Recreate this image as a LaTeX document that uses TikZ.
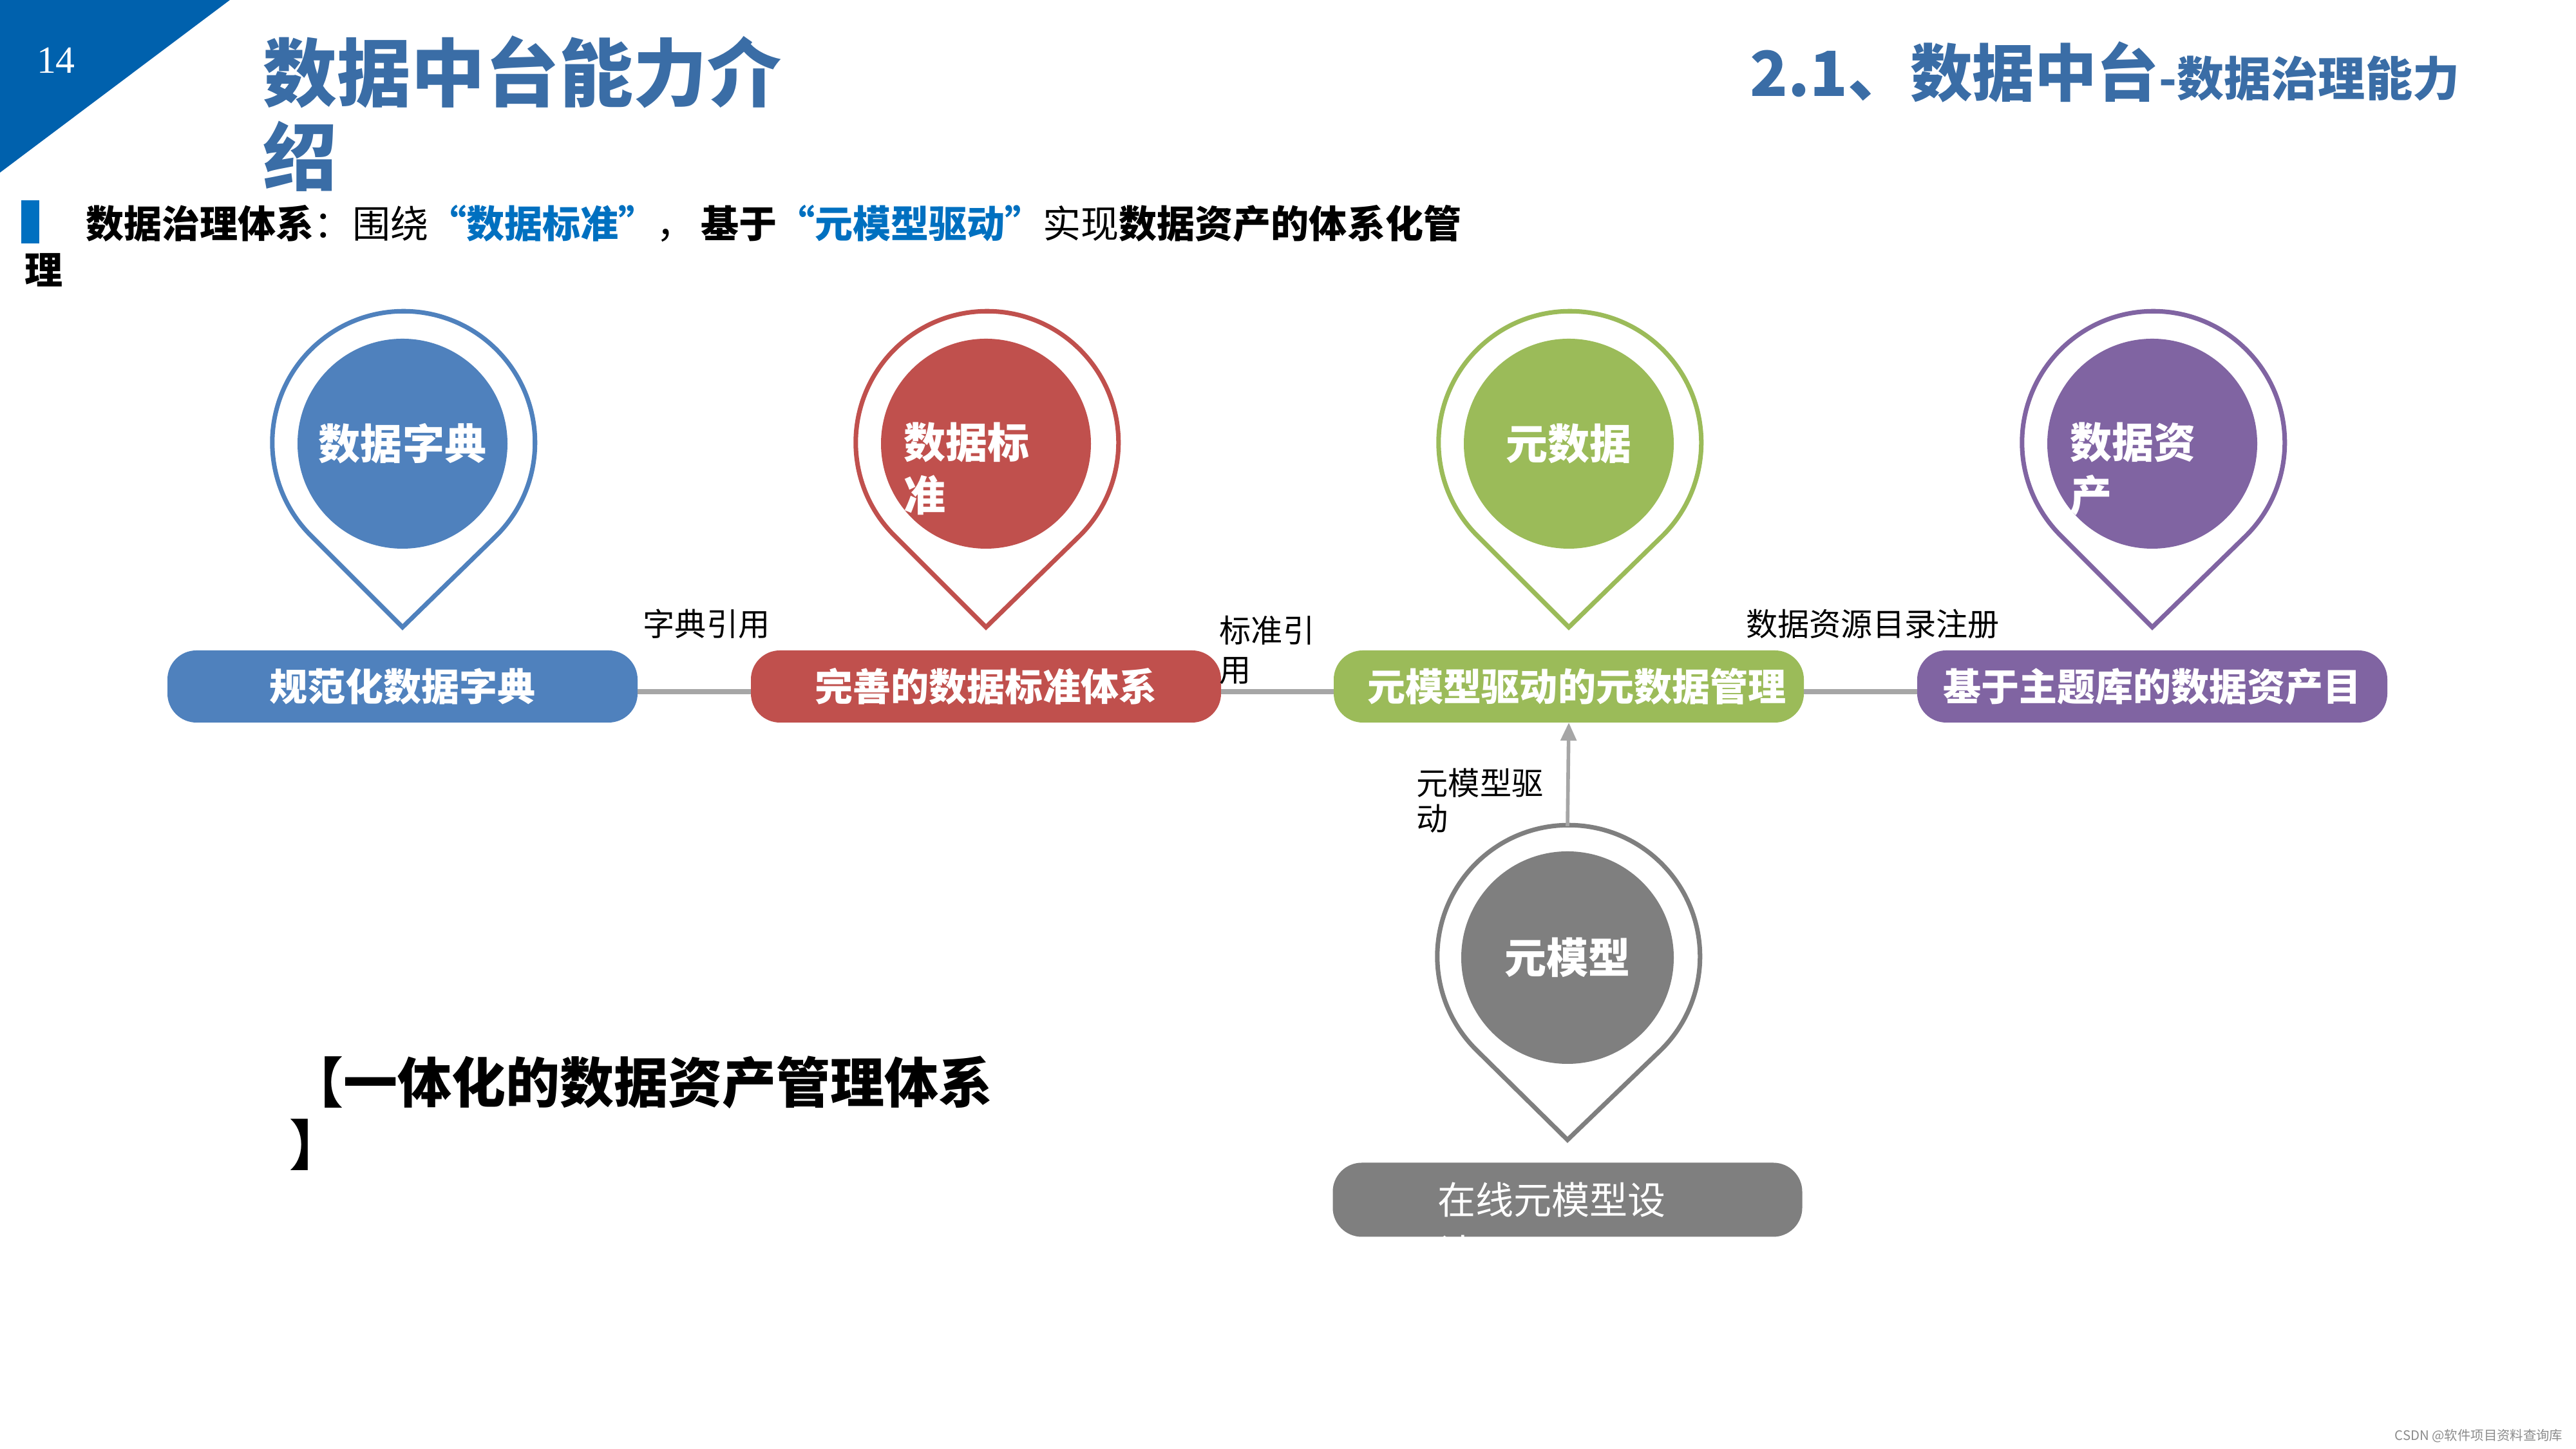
\documentclass[tikz,border=0pt]{standalone}
\usepackage{fontspec}
\setmainfont{Noto Sans CJK SC}
\newfontfamily\serifnum{Liberation Serif}
\usetikzlibrary{arrows.meta}
\definecolor{cb}{HTML}{4F81BD}
\definecolor{cr}{HTML}{C0504D}
\definecolor{cg}{HTML}{9BBB59}
\definecolor{cp}{HTML}{8064A2}
\definecolor{cgr}{HTML}{7F7F7F}
\definecolor{lnc}{HTML}{A6A6A6}
\definecolor{ttl}{HTML}{3A6DA6}
\definecolor{tri}{HTML}{0061AD}
\definecolor{hl}{HTML}{0070C0}
\tikzset{
 pinline/.style={line width=2pt, fill=white},
 pill/.style={rounded corners=0.45cm, minimum width=7.3cm, minimum height=1.12cm, inner sep=0, outer sep=0, text=white, font=\fontsize{16.8}{20}\selectfont\bfseries},
 incirc/.style={circle, minimum size=3.26cm, inner sep=0, outer sep=0, text=white, font=\fontsize{18.5}{23.3}\selectfont\bfseries},
 intext/.style={anchor=north west, inner sep=0, align=left, text=white, font=\fontsize{18.5}{23.3}\selectfont\bfseries},
 outc/.style={circle, minimum size=4.08cm, inner sep=0, outer sep=0},
 lbl/.style={inner sep=0, font=\fontsize{14}{17.4}\selectfont},
 conn/.style={draw=lnc, line width=2.2pt},
}
\begin{document}
\begin{tikzpicture}
\useasboundingbox (0,0) rectangle (40,22.5);
\fill[white] (0,0) rectangle (40,22.5);

% header
\fill[tri] (0,22.5) -- (3.57,22.5) -- (0,19.82) -- cycle;
\node[text=white, font=\serifnum\fontsize{17}{20}\selectfont, inner sep=0] (pg) at (0.87,21.56) {14};
\node[anchor=north west, inner sep=0, align=left, text=ttl, font=\fontsize{32.7}{37}\selectfont\bfseries] (tl) at (4.08,21.95) {数据中台能力介\\绍};
\node[anchor=base west, inner sep=0, text=ttl, font=\bfseries] (rt) at (27.17,21.00) {{\fontsize{27.5}{30}\selectfont 2.1、数据中台}{\fontsize{20.8}{24}\selectfont -数据治理能力}};
\fill[hl] (0.33,19.39) rectangle (0.61,18.72);
\node[anchor=north west, inner sep=0, align=left, font=\fontsize{16.8}{20.5}\selectfont] (sub) at (0.38,19.32) {\hspace{0.95cm}\textbf{数据治理体系}：围绕\textcolor{hl}{\textbf{“数据标准”}}，\,\textbf{基于}\textcolor{hl}{\textbf{“元模型驱动”}}实现\textbf{数据资产的体系化管}\\\textbf{理}};

% pin 1
\node[outc] (o1) at (6.25,15.61) {};
\coordinate (t1) at (6.25,12.76);
\draw[pinline, draw=cb] (o1.-45.7) arc[start angle=-45.7, end angle=225.7, radius=2.04] -- (t1) -- cycle;
\node[incirc, fill=cb] (c1) at (o1) {数据字典};
% pin 2
\node[outc] (o2) at (15.31,15.61) {};
\coordinate (t2) at (15.31,12.76);
\draw[pinline, draw=cr] (o2.-45.7) arc[start angle=-45.7, end angle=225.7, radius=2.04] -- (t2) -- cycle;
\node[incirc, fill=cr] (c2) at (o2) {};
\node[intext] (c2t) at (14.03,15.95) {数据标\\准};
% pin 3
\node[outc] (o3) at (24.36,15.61) {};
\coordinate (t3) at (24.36,12.76);
\draw[pinline, draw=cg] (o3.-45.7) arc[start angle=-45.7, end angle=225.7, radius=2.04] -- (t3) -- cycle;
\node[incirc, fill=cg] (c3) at (o3) {元数据};
% pin 4
\node[outc] (o4) at (33.42,15.61) {};
\coordinate (t4) at (33.42,12.76);
\draw[pinline, draw=cp] (o4.-45.7) arc[start angle=-45.7, end angle=225.7, radius=2.04] -- (t4) -- cycle;
\node[incirc, fill=cp] (c4) at (o4) {};
\node[intext] (c4t) at (32.14,15.95) {数据资\\产};
% pin 5
\node[outc] (o5) at (24.34,7.63) {};
\coordinate (t5) at (24.34,4.80);
\draw[pinline, draw=cgr] (o5.-45.7) arc[start angle=-45.7, end angle=225.7, radius=2.04] -- (t5) -- cycle;
\node[incirc, fill=cgr, minimum size=3.3cm] (c5) at (o5) {元模型};

% pills
\node[pill, fill=cb] (m1) at (6.25,11.84) {规范化数据字典};
\node[pill, fill=cr] (m2) at (15.31,11.84) {完善的数据标准体系};
\node[pill, fill=cg] (m3) at (24.36,11.84) {\hspace{0.25cm}元模型驱动的元数据管理};
\node[pill, fill=cp] (m4) at (33.42,11.84) {基于主题库的数据资产目};
\node[pill, fill=cgr, minimum height=1.15cm, minimum width=7.29cm] (m5) at (24.34,3.87) {};
\node[anchor=north west, inner sep=0, align=left, text=white, font=\fontsize{16.8}{23.3}\selectfont] (m5t) at (22.32,4.15) {在线元模型设\\计};

% connectors
\draw[conn] ([yshift=-0.08cm]m1.east) -- ([yshift=-0.08cm]m2.west);
\draw[conn] ([yshift=-0.08cm]m2.east) -- ([yshift=-0.08cm]m3.west);
\draw[conn] ([yshift=-0.08cm]m3.east) -- ([yshift=-0.08cm]m4.west);
\draw[conn, line width=1.6pt, -{Triangle[length=0.28cm,width=0.24cm]}] (o5.north) -- (m3.south);

% labels
\node[lbl] (l1) at (10.97,12.81) {字典引用};
\node[lbl, anchor=north west, align=left] (l2) at (18.93,12.95) {标准引\\用};
\node[lbl] (l3) at (29.08,12.81) {数据资源目录注册};
\node[lbl, anchor=north west, align=left, font=\fontsize{14}{15.9}\selectfont] (l4) at (21.99,10.58) {元模型驱\\动};

% bottom text
\node[anchor=north west, inner sep=0, align=left, font=\fontsize{23.9}{27.6}\selectfont\bfseries] (bt) at (4.49,6.11) {【一体化的数据资产管理体系\\】};

% watermark
\node[anchor=east, inner sep=0, text=black!45, font=\fontsize{5.8}{7}\selectfont] (wm) at (39.8,0.20) {CSDN @软件项目资料查询库};
\end{tikzpicture}
\end{document}
